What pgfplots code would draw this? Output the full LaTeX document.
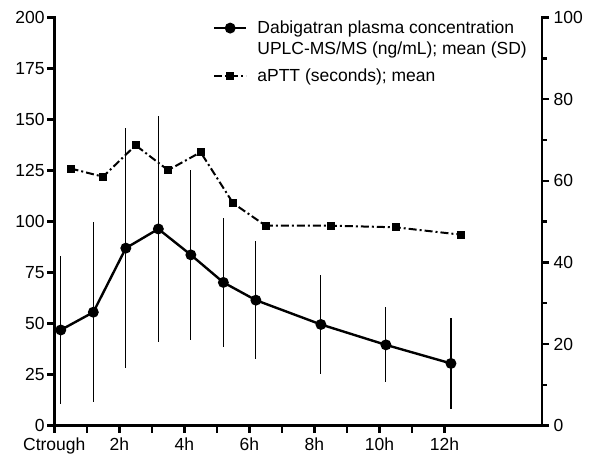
\documentclass[border=0pt]{standalone}
\usepackage{fontspec}
\setmainfont{Liberation Sans}
\usepackage{pgfplots}
\pgfplotsset{compat=1.18}

% Dabigatran plasma concentration (ng/mL): time, mean, SD
\pgfplotstableread{
t    mean  sd
0.2  46.9  36.1
1.2  55.6  44.0
2.2  87.0  58.7
3.2  96.4  55.2
4.2  83.7  41.7
5.2  70.2  31.5
6.2  61.5  29.0
8.2  49.6  24.1
10.2 39.6  18.4
12.2 30.5  22.5
}\conctable

% aPTT (seconds): time, mean
\pgfplotstableread{
t    mean
0.5  63.0
1.5  61.0
2.5  68.7
3.5  62.6
4.5  67.0
5.5  54.5
6.5  49.0
8.5  49.0
10.5 48.6
12.5 46.8
}\aptttable

\pgfplotsset{
  twin/.style={
    scale only axis, width=487.7bp, height=408.2bp,
    xmin=0, xmax=15, clip=false,
    axis line style={-, line width=2.5bp, line cap=rect},
    tick align=outside,
    major tick length=7bp, minor tick length=4.5bp,
    major tick style={black, line width=2.5bp},
    minor tick style={black, line width=2.5bp},
    /pgf/number format/assume math mode=true,
    tick label style={font=\fontsize{17.5bp}{20bp}\selectfont, inner sep=2.5bp},
  },
  conc/.style={black, line width=2.4bp, mark=*, mark size=4.2bp,
    mark options={solid, fill=black}},
  aptt/.style={black, line width=2bp, dash pattern=on 8bp off 3bp on 2bp off 3bp,
    mark=square*, mark size=3bp, mark options={solid, fill=black}},
  % legend sample drawn at a given height above the entry's last baseline
  sample at/.style={
    legend image code/.code={
      \draw[mark repeat=2, mark phase=2, ##1]
        plot coordinates {(0bp,#1) (16bp,#1) (32bp,#1)};}},
}

\begin{document}
\fontsize{17bp}{21bp}\selectfont
\begin{tikzpicture}
\path[use as bounding box] (-54.3bp,-32.3bp) rectangle (536.7bp,425.7bp);

% left axis: concentration with SD bars
\begin{axis}[twin,
  ymin=0, ymax=200,
  axis x line*=bottom, axis y line*=left,
  xtick={0,...,12},
  xticklabels={Ctrough,,2h,,4h,,6h,,8h,,10h,,12h},
  xticklabel style={inner sep=4.5bp},
  ytick={0,25,...,200},
]
\addplot[conc,
  error bars/.cd, y dir=both, y explicit, error mark=none,
  error bar style={black, line width=1.1bp, solid}]
  table[x=t, y=mean, y error=sd] {\conctable};
\end{axis}

% right axis: aPTT
\begin{axis}[twin,
  ymin=0, ymax=100,
  hide x axis, axis y line*=right,
  ytick={0,20,...,100},
  minor ytick={10,30,...,90},
  yticklabel style={inner sep=4.5bp},
  legend style={draw=none, fill=none, at={(0.325,0.997)}, anchor=north west,
    inner sep=0pt, font=\fontsize{17.5bp}{21bp}\selectfont,
    cells={anchor=base west, align=left}, row sep=8bp, column sep=8bp},
]
\addlegendimage{conc, sample at=26.5bp}
\addlegendentry{Dabigatran plasma concentration\\UPLC-MS/MS (ng/mL); mean (SD)}
\addplot[aptt, sample at=5.5bp] table[x=t, y=mean] {\aptttable};
\addlegendentry{aPTT (seconds); mean}
\end{axis}
\end{tikzpicture}
\end{document}
